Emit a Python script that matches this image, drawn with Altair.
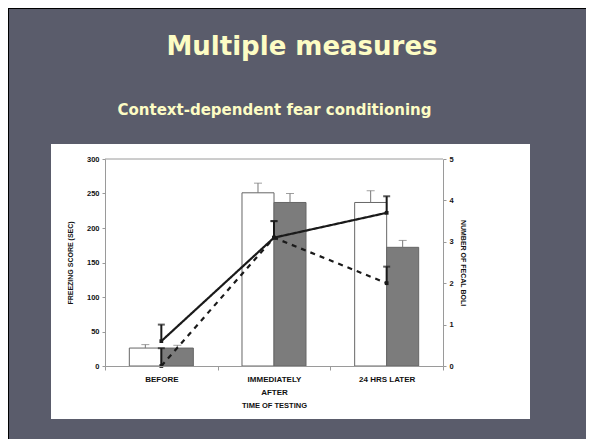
import altair as alt
import pandas as pd

# ---- data ----
categories = ["BEFORE", "IMMEDIATELY AFTER", "24 HRS LATER"]
bar_groups = ["open", "hatched"]
freezing_open = [26, 251, 237]
freezing_open_upper = [31, 265, 254]
freezing_hatched = [26, 237, 172]
freezing_hatched_upper = [30, 250, 182]

line_groups = ["solid", "dashed"]
boli_solid = [0.6, 3.1, 3.7]
boli_solid_upper = [1.0, 3.5, 4.1]
boli_dashed = [0.0, 3.1, 2.0]
boli_dashed_upper = [0.43, 3.5, 2.4]

left_ticks = [0, 50, 100, 150, 200, 250, 300]
right_ticks = [0, 1, 2, 3, 4, 5]

slide_title = "Multiple measures"
slide_subtitle = "Context-dependent fear conditioning"

# ---- tables ----
bars = pd.DataFrame({
    "cat": categories * 2,
    "grp": ["open"] * 3 + ["hatched"] * 3,
    "val": freezing_open + freezing_hatched,
    "upper": freezing_open_upper + freezing_hatched_upper,
})
lines = pd.DataFrame({
    "cat": categories * 2,
    "grp": ["solid"] * 3 + ["dashed"] * 3,
    "val": boli_solid + boli_dashed,
    "upper": boli_solid_upper + boli_dashed_upper,
})
one = pd.DataFrame({"k": [0]})

W, H = 338, 207
AX = "#9a9a9a"
LBL_FONT = "Liberation Sans"

x_enc = alt.X(
    "cat:N",
    sort=categories,
    scale=alt.Scale(domain=categories, paddingInner=0, paddingOuter=0),
    axis=alt.Axis(
        title="TIME OF TESTING",
        labelAngle=0,
        tickBand="extent",
        labelExpr="datum.value == 'IMMEDIATELY AFTER' ? ['IMMEDIATELY', 'AFTER'] : datum.value",
        labelFontSize=8,
        labelPadding=5,
        labelLineHeight=13,
        titleFontSize=7.5,
        titlePadding=5,
        tickSize=4,
        zindex=1,
    ),
)
xoff = alt.XOffset("grp:N", sort=bar_groups,
                   scale=alt.Scale(domain=bar_groups, paddingInner=0, paddingOuter=0.76))

left_scale = alt.Scale(domain=[0, 300], nice=False)
right_scale = alt.Scale(domain=[0, 5], nice=False)
left_axis = alt.Axis(orient="left", title="FREEZING SCORE (SEC)",
                     values=left_ticks, labelOverlap=False,
                     titlePadding=13, labelPadding=3, tickSize=3, zindex=1)
right_axis = alt.Axis(orient="right", title="NUMBER OF FECAL BOLI",
                      values=right_ticks, labelOverlap=False,
                      titlePadding=6, labelPadding=3, tickSize=3, zindex=1)

# ---- decorations ----
panel = alt.Chart(one).mark_rect(color="white").encode(
    x=alt.value(-54), x2=alt.value(425), y=alt.value(-15), y2=alt.value(260))
border_left = alt.Chart(one).mark_rect(color="black").encode(
    x=alt.value(-97), x2=alt.value(-96), y=alt.value(-151), y2=alt.value(300))
border_top = alt.Chart(one).mark_rect(color="black").encode(
    x=alt.value(-97), x2=alt.value(500), y=alt.value(-151), y2=alt.value(-150))
title_txt = alt.Chart(one).mark_text(
    text=slide_title, font="DejaVu Sans", fontWeight="bold", fontSize=26,
    color="#fdfcc4", align="center", baseline="alphabetic").encode(
    x=alt.value(197), y=alt.value(-104))
subtitle_txt = alt.Chart(one).mark_text(
    text=slide_subtitle, font="DejaVu Sans", fontWeight="bold", fontSize=15,
    color="#fdfcc4", align="center", baseline="alphabetic").encode(
    x=alt.value(169.5), y=alt.value(-44))
top_frame = alt.Chart(one).mark_rule(color=AX, strokeWidth=1).encode(
    x=alt.value(0), x2=alt.value(W), y=alt.value(0))

# ---- freezing bars (left axis) ----
bar_base = alt.Chart(bars)
bar_marks = bar_base.mark_bar(stroke="#666", strokeWidth=1).encode(
    x=x_enc, xOffset=xoff,
    y=alt.Y("val:Q", scale=left_scale, axis=left_axis),
    fill=alt.Fill("grp:N", scale=alt.Scale(domain=bar_groups, range=["#ffffff", "#7c7c7c"]),
                  legend=None),
)
bar_err = bar_base.mark_rule(color="#777", strokeWidth=1).encode(
    x=x_enc, xOffset=xoff,
    y=alt.Y("val:Q", scale=left_scale, axis=left_axis), y2="upper:Q")
bar_cap = bar_base.mark_tick(color="#777", thickness=1, size=8).encode(
    x=x_enc, xOffset=xoff, y=alt.Y("upper:Q", scale=left_scale, axis=left_axis))

left = alt.layer(panel, border_left, border_top, title_txt, subtitle_txt,
                 bar_marks, bar_err, bar_cap, top_frame)

# ---- fecal boli lines (right axis) ----
line_base = alt.Chart(lines)
dash = alt.StrokeDash("grp:N", scale=alt.Scale(domain=line_groups, range=[[1, 0], [5, 5]]),
                      legend=None)
line_marks = line_base.mark_line(color="#1a1a1a", strokeWidth=2.2).encode(
    x=x_enc, y=alt.Y("val:Q", scale=right_scale, axis=right_axis),
    strokeDash=dash, detail="grp:N")
line_err = line_base.mark_rule(color="#1a1a1a", strokeWidth=2).encode(
    x=x_enc, y=alt.Y("val:Q", scale=right_scale, axis=right_axis), y2="upper:Q")
line_cap = line_base.mark_tick(color="#1a1a1a", thickness=2, size=7).encode(
    x=x_enc, y=alt.Y("upper:Q", scale=right_scale, axis=right_axis))
line_pts = line_base.mark_point(shape="square", filled=True, size=14, color="#1a1a1a",
                                opacity=1).encode(
    x=x_enc, y=alt.Y("val:Q", scale=right_scale, axis=right_axis))

right = alt.layer(line_marks, line_err, line_cap, line_pts)

chart = (
    alt.layer(left, right)
    .resolve_scale(y="independent")
    .properties(
        width=W, height=H,
        autosize=alt.AutoSizeParams(type="none"),
        padding={"left": 97, "top": 151, "right": 143, "bottom": 73},
        background="#5a5c6b",
    )
    .configure_view(stroke=None)
    .configure_axis(
        grid=False,
        domainColor=AX, tickColor=AX,
        labelFont=LBL_FONT, labelFontWeight="bold", labelFontSize=7.5, labelColor="#111",
        titleFont=LBL_FONT, titleFontWeight="bold", titleFontSize=7, titleColor="#111",
    )
)

chart.save("out.html", embed_options={"renderer": "svg", "actions": False})
